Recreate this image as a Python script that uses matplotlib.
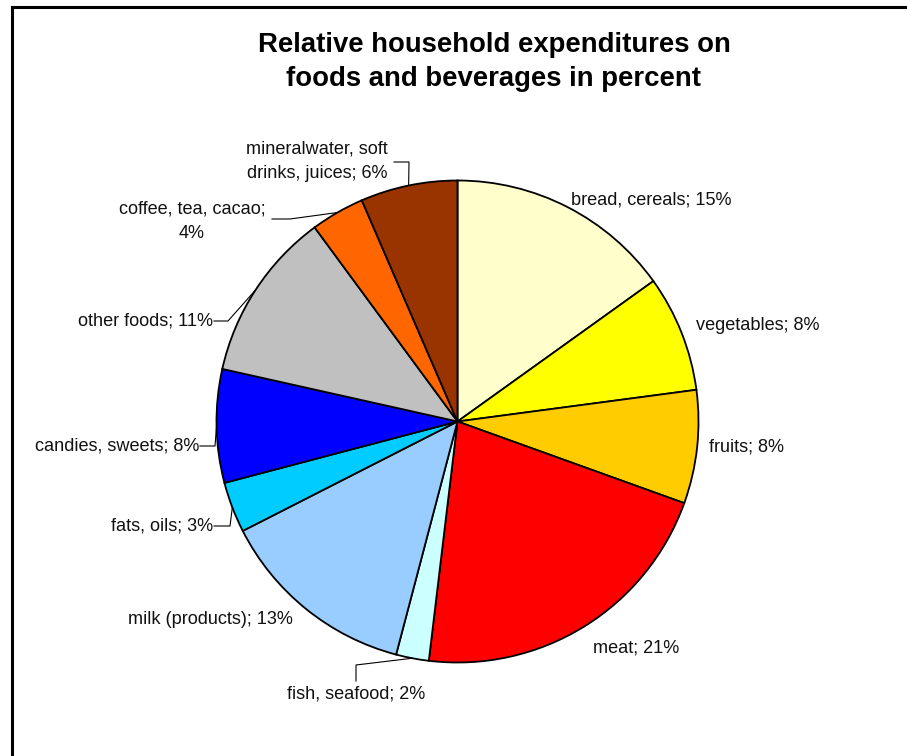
import matplotlib
matplotlib.use("Agg")
import matplotlib.pyplot as plt
import numpy as np

plt.rcParams["font.family"] = ["Liberation Sans", "DejaVu Sans"]

W, H = 907, 756
CX, CY, R = 457.5, 421.5, 241.0   # pie centre / radius in pixels

categories = ["bread, cereals", "vegetables", "fruits", "meat", "fish, seafood",
              "milk (products)", "fats, oils", "candies, sweets", "other foods",
              "coffee, tea, cacao", "mineralwater, soft\ndrinks, juices"]
shares = [15.1, 7.8, 7.6, 21.4, 2.2, 13.4, 3.4, 7.6, 11.4, 3.6, 6.5]
colors = ["#FFFFCC", "#FFFF00", "#FFCC00", "#FF0000", "#CCFFFF", "#99CCFF",
          "#00CCFF", "#0000FF", "#C0C0C0", "#FF6600", "#993300"]

# label placement (pixels): anchor x, y, alignment, leader elbow (or None)
label_pos = [
    (571, 200, "left", None),
    (696, 325, "left", None),
    (709, 447, "left", None),
    (593, 648, "left", None),
    (356, 694, "center", (356, 665)),
    (293, 620, "right", None),
    (213, 526, "right", (230, 526)),
    (199, 446, "right", (215, 446)),
    (213, 321, "right", (228, 321)),
    (192, 221, "center", (290, 219)),
    (317, 161, "center", (409, 162)),
]
# where each leader leaves the label (pixels)
leader_start = [None, None, None, None, (356, 681), None, (214, 526),
                (200, 446), (214, 321), (272, 219), (394, 162)]


def d(x, y):
    """pixel position -> pie data coords"""
    return (x - CX) / R, (CY - y) / R


fig = plt.figure(figsize=(W / 100, H / 100), dpi=100)
ax = fig.add_axes([(CX - R) / W, (H - CY - R) / H, 2 * R / W, 2 * R / H])
wedges, _ = ax.pie(shares, colors=colors, startangle=90, counterclock=False,
                   radius=1, wedgeprops=dict(edgecolor="black", linewidth=1.3))
ax.set_xlim(-1, 1)
ax.set_ylim(-1, 1)
ax.axis("off")

total = sum(shares)
for i, (name, v) in enumerate(zip(categories, shares)):
    sep = ";\n" if name.startswith("coffee") else "; "
    txt = f"{name}{sep}{round(v / total * 100)}%"
    x, y, ha, elbow = label_pos[i]
    tx, ty = d(x, y)
    ax.text(tx, ty, txt, ha=ha, va="center", fontsize=13.1, color="#111",
            linespacing=1.55, multialignment="center")
    if elbow is not None:
        w = wedges[i]
        mid = np.deg2rad((w.theta1 + w.theta2) / 2)
        ex, ey = np.cos(mid), np.sin(mid)
        sx, sy = d(*leader_start[i])
        bx, by = d(*elbow)
        ax.plot([sx, bx, ex], [sy, by, ey], color="black", lw=0.8,
                clip_on=False)

fig.text(494 / W, 1 - 45 / H, "Relative household expenditures on",
         ha="center", va="center", fontsize=19.8, fontweight="bold")
fig.text(494 / W, 1 - 79 / H, "foods and beverages in percent",
         ha="center", va="center", fontsize=19.8, fontweight="bold")

# chart frame, only the top and left edges fall inside the image
fig.add_artist(plt.Line2D([12 / W, 12 / W], [0, 1 - 6.5 / H], color="black",
                          lw=2.2))
fig.add_artist(plt.Line2D([12 / W, 1], [1 - 6.5 / H, 1 - 6.5 / H],
                          color="black", lw=2.2))

fig.savefig("out.png", dpi=100)
